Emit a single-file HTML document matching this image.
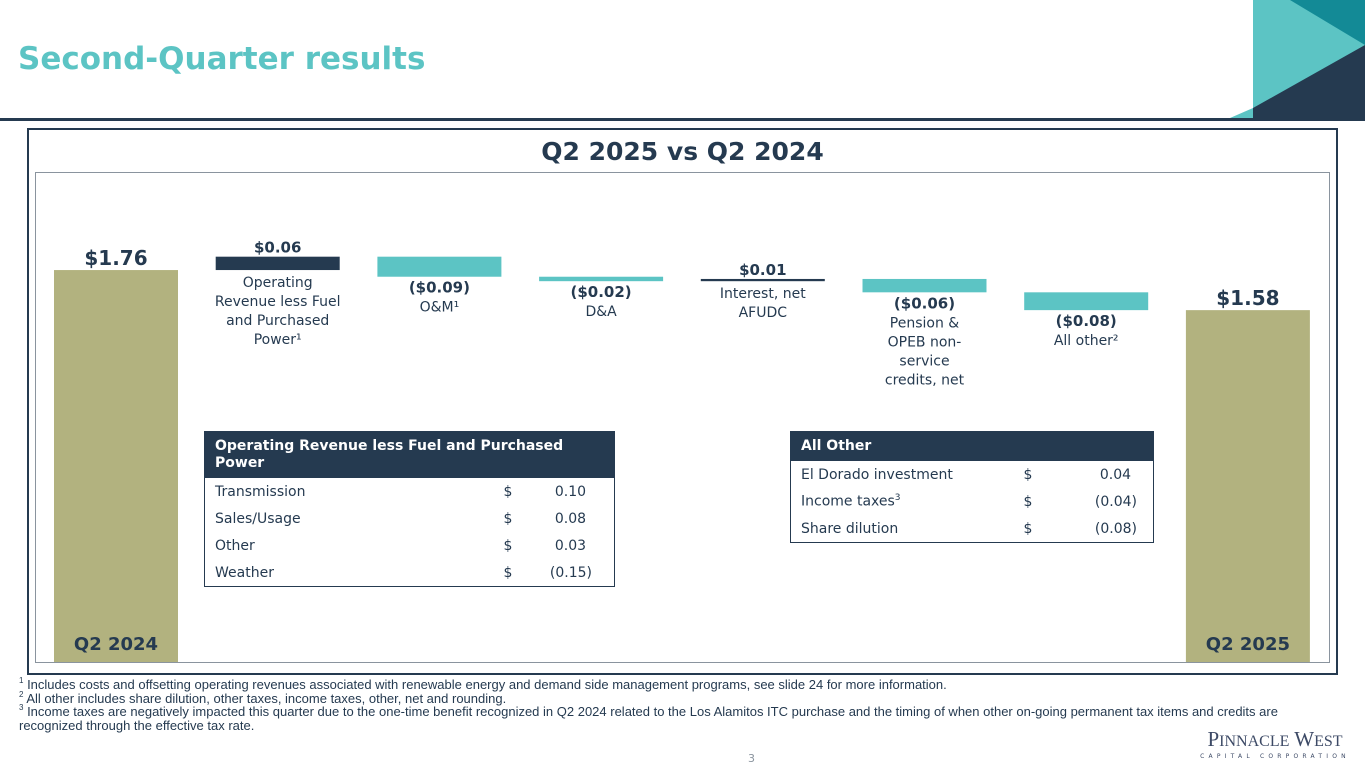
<!DOCTYPE html>
<html><head><meta charset="utf-8"><style>
body{margin:0;width:1365px;height:768px;background:#fff;position:relative;overflow:hidden;font-family:"DejaVu Sans","Liberation Sans",sans-serif;color:#253a50}
.abs{position:absolute}
table{border-collapse:collapse;font-size:14px;color:#253a50;table-layout:fixed}
td{padding:0 0 0 10px;height:27px}
td.v{text-align:right;padding-left:0}
th{background:#253a50;color:#fff;text-align:left;font-size:14px;padding:6px 10px;font-weight:bold;line-height:17px}
.fn{font-family:"Liberation Sans",sans-serif;font-size:13px;line-height:13.5px;left:19px;top:678px;width:1305px;color:#253a50}
.fn sup{font-size:8px;vertical-align:top;line-height:0;position:relative;top:3px}
</style></head><body>
<div class="abs" style="left:18px;top:41px;font-size:31px;font-weight:bold;color:#5cc4c4">Second-Quarter results</div>
<svg class="abs" style="left:0;top:0" width="1365" height="130">
<rect x="1253" y="0" width="112" height="118" fill="#5cc4c4"/>
<polygon points="1290,0 1365,0 1365,45" fill="#138a96"/>
<polygon points="1365,45 1365,118 1253,118 1253,108" fill="#253a50"/>
<polygon points="1253,108 1253,118 1230,118" fill="#5cc4c4"/>
<rect x="0" y="118" width="1365" height="3" fill="#253a50"/>
</svg>
<div class="abs" style="left:27px;top:128px;width:1307px;height:543px;border:2px solid #253a50"></div>
<div class="abs" style="left:35px;top:172px;width:1293px;height:489px;border:1px solid #8a949e"></div>
<div class="abs" style="left:0;width:1365px;top:137px;text-align:center;font-size:25px;font-weight:bold">Q2 2025 vs Q2 2024</div>
<svg id="chart" class="abs" style="left:0;top:0" width="1365" height="700"></svg>

<div class="abs" style="left:204px;top:431px">
<table style="width:410px;border:1px solid #253a50">
<colgroup><col style="width:289px"><col style="width:45px"><col style="width:76px"></colgroup>
<tr><th colspan="3">Operating Revenue less Fuel and Purchased<br>Power</th></tr>
<tr><td>Transmission</td><td>$</td><td class="v" style="padding-right:28px">0.10</td></tr>
<tr><td>Sales/Usage</td><td>$</td><td class="v" style="padding-right:28px">0.08</td></tr>
<tr><td>Other</td><td>$</td><td class="v" style="padding-right:28px">0.03</td></tr>
<tr><td>Weather</td><td>$</td><td class="v" style="padding-right:22px">(0.15)</td></tr>
</table></div>
<div class="abs" style="left:790px;top:431px">
<table style="width:363px;border:1px solid #253a50">
<colgroup><col style="width:223px"><col style="width:45px"><col style="width:95px"></colgroup>
<tr><th colspan="3">All Other</th></tr>
<tr><td>El Dorado investment</td><td>$</td><td class="v" style="padding-right:22px">0.04</td></tr>
<tr><td>Income taxes<sup style="font-size:9px">3</sup></td><td>$</td><td class="v" style="padding-right:16px">(0.04)</td></tr>
<tr><td>Share dilution</td><td>$</td><td class="v" style="padding-right:16px">(0.08)</td></tr>
</table></div>

<div class="abs fn">
<div><sup>1</sup> Includes costs and offsetting operating revenues associated with renewable energy and demand side management programs, see slide 24 for more information.</div>
<div><sup>2</sup> All other includes share dilution, other taxes, income taxes, other, net and rounding.</div>
<div><sup>3</sup> Income taxes are negatively impacted this quarter due to the one-time benefit recognized in Q2 2024 related to the Los Alamitos ITC purchase and the timing of when other on-going permanent tax items and credits are recognized through the effective tax rate.</div>
</div>
<div class="abs" style="left:748px;top:752px;font-size:11px;color:#8a949e">3</div>
<div class="abs" style="left:1200px;top:729px;width:150px;text-align:center;color:#3d4a66">
<div style="font-family:'Liberation Serif',serif;font-size:21px;line-height:20px">P<span style="font-size:16px">INNACLE</span> W<span style="font-size:16px">EST</span></div>
<div style="font-size:6px;letter-spacing:4.2px;line-height:10px">CAPITAL CORPORATION</div></div>

<script>
const categories=[["Q2 2024"],["Operating","Revenue less Fuel","and Purchased","Power¹"],["O&M¹"],["D&A"],["Interest, net","AFUDC"],["Pension &","OPEB non-","service","credits, net"],["All other²"],["Q2 2025"]];
const values=[1.76,0.06,-0.09,-0.02,0.01,-0.06,-0.08,1.58];
const valueLabels=["$1.76","$0.06","($0.09)","($0.02)","$0.01","($0.06)","($0.08)","$1.58"];
const isTotal=[true,false,false,false,false,false,false,true];
const svg=document.getElementById('chart');
const NS='http://www.w3.org/2000/svg';
const baseY=662, scale=222.7, x0=54, step=161.7, bw=124;
const y=v=>baseY-v*scale;
function mk(t,a,txt){const e=document.createElementNS(NS,t);for(const k in a)e.setAttribute(k,a[k]);if(txt!==undefined)e.textContent=txt;svg.appendChild(e);return e;}
let run=0;
values.forEach((v,i)=>{
  const x=x0+i*step;
  let top,bot,fill;
  if(isTotal[i]){top=y(v);bot=baseY;fill='#b2b27f';run=v;}
  else{const a=run,b=run+v;top=y(Math.max(a,b));bot=y(Math.min(a,b));fill=v>=0?'#253a50':'#5cc4c4';run=b;}
  const h=Math.max(bot-top,2);
  const r=mk('rect',{x:x,y:top,width:bw,height:h,fill:fill});
  
  
  const cx=x+bw/2;
  let vy,cy;
  if(isTotal[i]){vy=top-5;}
  else if(v>=0){vy=top-4;cy=top+h+17;}
  else{vy=top+h+16;cy=vy+19;}
  const vt=mk('text',{x:cx,y:vy,'text-anchor':'middle','font-size':isTotal[i]?20:15,'font-weight':'bold',fill:'#253a50'},valueLabels[i]);
  
  
  if(isTotal[i]){
    const t=mk('text',{x:cx,y:650,'text-anchor':'middle','font-size':18,'font-weight':'bold',fill:'#253a50'},categories[i][0]);
    
    
  } else {
    const t=mk('text',{'text-anchor':'middle','font-size':14,fill:'#253a50'});
    
    
    categories[i].forEach((ln,j)=>{const s=document.createElementNS(NS,'tspan');s.setAttribute('x',cx);s.setAttribute('y',cy+j*19);s.textContent=ln;t.appendChild(s);});
  }
});
</script>
</body></html>
